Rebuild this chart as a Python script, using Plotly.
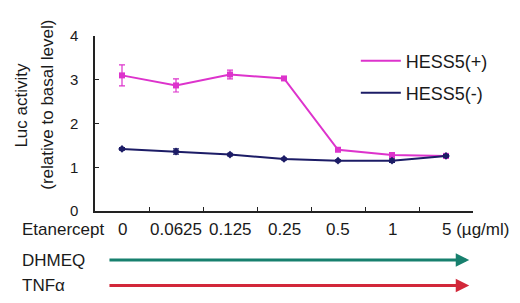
import plotly.graph_objects as go

categories = ["0", "0.0625", "0.125", "0.25", "0.5", "1", "5 (µg/ml)"]
hess_plus = [3.10, 2.87, 3.12, 3.03, 1.40, 1.28, 1.26]
hess_plus_err = [0.24, 0.15, 0.10, 0.04, 0.04, 0.04, 0.05]
hess_minus = [1.42, 1.36, 1.29, 1.19, 1.15, 1.15, 1.26]
hess_minus_err = [0.03, 0.06, 0.03, 0.02, 0.02, 0.04, 0.03]
row_labels = ["Etanercept", "DHMEQ", "TNFα"]
y_title = ["Luc activity", "(relative to basal level)"]

xs = list(range(len(categories)))
FONT = "Liberation Sans, Arial, sans-serif"
PINK = "#dd33cc"
NAVY = "#1c1c66"
TXT = "#1a1a1a"

fig = go.Figure()
fig.add_trace(go.Scatter(
    x=xs, y=hess_plus, name="HESS5(+)", mode="lines+markers", showlegend=False,
    line=dict(color=PINK, width=2), marker=dict(symbol="square", size=6, color=PINK),
    error_y=dict(type="data", array=hess_plus_err, color=PINK, thickness=1.2, width=3),
))
fig.add_trace(go.Scatter(
    x=xs, y=hess_minus, name="HESS5(-)", mode="lines+markers", showlegend=False,
    line=dict(color=NAVY, width=2), marker=dict(symbol="diamond", size=6, color=NAVY),
    error_y=dict(type="data", array=hess_minus_err, color=NAVY, thickness=1.2, width=3),
))
# legend entries (lines only, as in the reference)
fig.add_trace(go.Scatter(x=[None], y=[None], name="HESS5(+)", mode="lines",
                         line=dict(color=PINK, width=2), legend="legend"))
fig.add_trace(go.Scatter(x=[None], y=[None], name="HESS5(-)", mode="lines",
                         line=dict(color=NAVY, width=2), legend="legend2"))

FS = 17
ROW0 = -0.105
anns = []
for i, c in enumerate(categories):
    if c.startswith("5 "):
        anns.append(dict(x=i, xshift=-6, y=ROW0, xref="x", yref="paper", text=c, showarrow=False,
                         xanchor="left", yanchor="middle", font=dict(family=FONT, size=FS, color=TXT)))
    else:
        anns.append(dict(x=i, y=ROW0, xref="x", yref="paper", text=c, showarrow=False,
                         xanchor="center", yanchor="middle", font=dict(family=FONT, size=FS, color=TXT)))
for lbl, yy in zip(row_labels, [ROW0, -0.28, -0.425]):
    anns.append(dict(x=-0.199, y=yy, xref="paper", yref="paper", text=lbl, showarrow=False,
                     xanchor="left", yanchor="middle", font=dict(family=FONT, size=FS, color=TXT)))
for yy, col in [(-0.28, "#17806e"), (-0.425, "#d2283a")]:
    anns.append(dict(x=6.43, y=yy, xref="x", yref="paper", ax=-0.26, ay=0, axref="x", ayref="pixel",
                     showarrow=True, arrowhead=2, arrowsize=0.9, arrowwidth=3, arrowcolor=col, text=""))
for t, xx in zip(y_title, [-0.194, -0.125]):
    anns.append(dict(x=xx, y=0.606, xref="paper", yref="paper", textangle=-90,
                     xanchor="center", yanchor="middle", text=t, showarrow=False,
                     font=dict(family=FONT, size=FS, color=TXT)))

# page has an 8px body margin: figure origin sits at (8, 8) in the window
fig.update_layout(
    width=520, height=303, margin=dict(l=87, r=55, t=28, b=100, autoexpand=False),
    paper_bgcolor="white", plot_bgcolor="white",
    font=dict(family=FONT, size=FS, color=TXT),
    showlegend=True,
    legend=dict(x=0.69, y=0.857, xanchor="left", yanchor="middle", bgcolor="rgba(0,0,0,0)",
                font=dict(family=FONT, size=18, color=TXT), itemwidth=40),
    legend2=dict(x=0.69, y=0.674, xanchor="left", yanchor="middle", bgcolor="rgba(0,0,0,0)",
                 font=dict(family=FONT, size=18, color=TXT), itemwidth=40),
    annotations=anns,
)
fig.update_xaxes(range=[-0.5, 6.5], tickvals=[i + 0.5 for i in range(len(categories))],
                 showticklabels=False, ticks="inside", ticklen=4, tickcolor="#222",
                 showline=True, linecolor="#222", linewidth=1.5, showgrid=False, zeroline=False)
fig.update_yaxes(range=[0, 4], tickvals=[0, 1, 2, 3, 4], ticks="inside", ticklen=4, tickcolor="#222",
                 showline=True, linecolor="#222", linewidth=1.5, showgrid=False, zeroline=False,
                 ticklabelstandoff=12,
                 tickfont=dict(family=FONT, size=15, color=TXT))
fig.write_html("out.html")
